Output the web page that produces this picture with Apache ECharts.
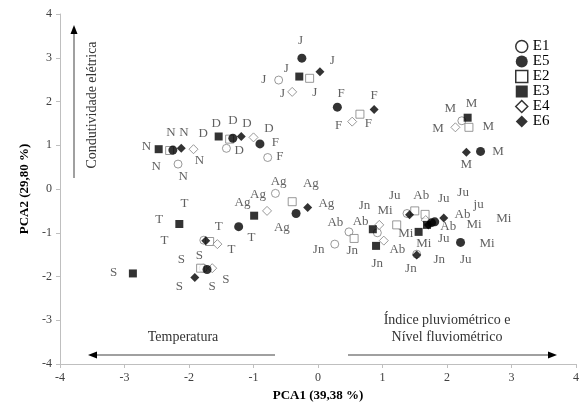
<!DOCTYPE html>
<html><head><meta charset="utf-8">
<script src="https://cdn.jsdelivr.net/npm/echarts@6/dist/echarts.min.js"></script>
<style>html,body{margin:0;padding:0;background:#fff}#c{width:582px;height:407px}</style>
</head><body><div id="c"></div>
<script>
// Axis ranges / ticks
const xMin = -4, xMax = 4, yMin = -4, yMax = 4, tickStep = 1;

// Series values [PCA1, PCA2]
const E1 = [[-0.61,2.49],[2.23,1.56],[-1.42,0.93],[-0.78,0.72],[-2.17,0.57],[-0.66,-0.10],[-1.77,-1.17],[-1.78,-1.81],[0.26,-1.26],[0.48,-0.98],[0.92,-1.00],[1.38,-0.56],[1.53,-1.49]];
const E5 = [[-0.25,2.99],[0.30,1.87],[2.52,0.86],[-1.32,1.16],[-0.90,1.03],[-2.25,0.89],[-0.34,-0.56],[-1.23,-0.86],[-1.72,-1.84],[1.76,-0.77],[1.81,-0.75],[2.21,-1.22]];
const E2 = [[-0.13,2.53],[0.65,1.71],[2.34,1.41],[-1.37,1.14],[-2.30,0.88],[-0.40,-0.29],[-1.68,-1.20],[-1.82,-1.81],[0.56,-1.13],[1.22,-0.82],[1.50,-0.50],[1.66,-0.58]];
const E3 = [[-0.29,2.57],[2.32,1.63],[-1.54,1.20],[-2.47,0.91],[-0.99,-0.61],[-2.15,-0.80],[-2.87,-1.93],[0.85,-0.92],[0.90,-1.30],[1.56,-0.98],[1.69,-0.82]];
const E4 = [[-0.40,2.22],[0.53,1.54],[2.13,1.41],[-1.00,1.18],[-1.93,0.91],[-0.79,-0.50],[-1.56,-1.26],[-1.64,-1.81],[0.95,-0.82],[1.02,-1.18],[1.67,-0.71]];
const E6 = [[0.03,2.68],[0.87,1.82],[2.30,0.84],[-1.19,1.20],[-2.12,0.93],[-0.16,-0.42],[-1.74,-1.18],[-1.91,-2.02],[1.53,-1.51],[1.95,-0.66],[1.71,-0.82],[1.42,-0.59]];

// Month labels (text and position in data units)
const labelText = ['J','J','J','J','J','J','F','F','F','F','F','F','M','M','M','M','M','M','N','N','N','N','N','N','D','D','D','D','D','D','Ag','Ag','Ag','Ag','Ag','Ag','T','T','T','T','T','T','S','S','S','S','S','S','Ju','Ab','Ju','Ju','ju','Jn','Mi','Ab','Ab','Ab','Ab','Mi','Mi','Mi','Mi','Ju','Mi','Jn','Jn','Ab','Jn','Jn','Jn','Ju'];
const labelPos = [[-0.27,3.39],[-0.49,2.76],[-0.84,2.49],[-0.55,2.17],[-0.05,2.21],[0.22,2.93],
[0.36,2.19],[0.87,2.13],[0.32,1.44],[0.78,1.50],[-0.66,1.06],[-0.59,0.74],
[2.38,1.96],[2.05,1.84],[1.86,1.37],[2.64,1.42],[2.79,0.85],[2.30,0.56],
[-2.28,1.30],[-2.08,1.30],[-2.66,0.97],[-1.84,0.66],[-2.51,0.51],[-2.09,0.28],
[-1.58,1.50],[-1.32,1.56],[-1.10,1.50],[-1.78,1.27],[-0.76,1.39],[-1.22,0.88],
[-0.61,0.18],[-0.93,-0.12],[-1.17,-0.30],[-0.56,-0.88],[-0.11,0.13],[0.13,-0.33],
[-2.07,-0.33],[-2.46,-0.71],[-2.38,-1.17],[-1.54,-0.86],[-1.03,-1.10],[-1.34,-1.38],
[-1.84,-1.53],[-2.12,-1.62],[-3.17,-1.91],[-2.15,-2.22],[-1.64,-2.22],[-1.43,-2.08],
[1.19,-0.16],[1.60,-0.16],[1.95,-0.21],[2.25,-0.08],[2.49,-0.35],[0.72,-0.37],[1.04,-0.50],
[0.27,-0.77],[0.66,-0.75],[2.24,-0.59],[2.02,-0.86],[2.42,-0.82],[2.88,-0.67],
[1.36,-1.03],[1.64,-1.24],[1.95,-1.13],[2.62,-1.24],
[0.01,-1.38],[0.53,-1.41],[1.23,-1.38],[0.92,-1.71],[1.44,-1.81],[1.88,-1.62],[2.29,-1.61]];

const FONT = '"Liberation Serif", "Times New Roman", serif';
const GRAY = '#808080';

function ser(name, data, symbol, filled, size, z) {
  return {
    type: 'scatter', name: name, data: data, symbol: symbol, symbolSize: size, z: z,
    itemStyle: filled ? {color: '#000'} : {color: '#fff', borderColor: GRAY, borderWidth: 1},
    emphasis: {disabled: true}
  };
}

const chart = echarts.init(document.getElementById('c'), null, {renderer: 'canvas'});
const option = {
  animation: false,
  backgroundColor: '#fff',
  grid: {left: 60, right: 6, top: 14, bottom: 43, containLabel: false},
  xAxis: {
    type: 'value', min: xMin, max: xMax, interval: tickStep,
    name: 'PCA1 (39,38 %)', nameLocation: 'middle', nameGap: 23,
    nameTextStyle: {fontFamily: FONT, fontSize: 13, fontWeight: 'bold', color: '#000'},
    axisLine: {onZero: false, lineStyle: {color: '#bfbfbf'}},
    axisTick: {show: true, length: 4, lineStyle: {color: '#bfbfbf'}},
    axisLabel: {fontFamily: FONT, fontSize: 12, color: '#404040', margin: 8},
    splitLine: {show: false}
  },
  yAxis: {
    type: 'value', min: yMin, max: yMax, interval: tickStep,
    name: 'PCA2 (29,80 %)', nameLocation: 'middle', nameGap: 28, nameRotate: 90,
    nameTextStyle: {fontFamily: FONT, fontSize: 13, fontWeight: 'bold', color: '#000'},
    axisLine: {onZero: false, lineStyle: {color: '#bfbfbf'}},
    axisTick: {show: true, length: 4, lineStyle: {color: '#bfbfbf'}},
    axisLabel: {fontFamily: FONT, fontSize: 12, color: '#404040', margin: 8},
    splitLine: {show: false}
  },
  legend: {
    orient: 'vertical', left: 510, top: 34, itemGap: 0, itemWidth: 12, itemHeight: 12,
    textStyle: {fontFamily: FONT, fontSize: 15, color: '#000'},
    data: [
      {name: 'E1', icon: 'circle', itemStyle: {color: '#fff', borderColor: '#000', borderWidth: 1.5}},
      {name: 'E5', icon: 'circle', itemStyle: {color: '#000'}},
      {name: 'E2', icon: 'rect', itemStyle: {color: '#fff', borderColor: '#000', borderWidth: 1.5}},
      {name: 'E3', icon: 'rect', itemStyle: {color: '#000'}},
      {name: 'E4', icon: 'diamond', itemStyle: {color: '#fff', borderColor: '#000', borderWidth: 1.5}},
      {name: 'E6', icon: 'diamond', itemStyle: {color: '#000'}}
    ],
    selectedMode: false
  },
  series: [
    ser('E1', E1, 'circle', false, 8, 2),
    ser('E2', E2, 'rect', false, 8, 2),
    ser('E4', E4, 'diamond', false, 9, 2),
    ser('E5', E5, 'circle', true, 9, 3),
    ser('E3', E3, 'rect', true, 8, 3),
    ser('E6', E6, 'diamond', true, 9, 3),
    {
      type: 'scatter', name: 'labels', silent: true, symbol: 'circle', symbolSize: 1, z: 4,
      itemStyle: {color: 'rgba(0,0,0,0)'},
      data: labelText.map((t, i) => ({name: t, value: labelPos[i]})),
      label: {show: true, position: 'inside', formatter: p => p.name,
        fontFamily: FONT, fontSize: 13, color: '#3a3a3a'}
    }
  ],
  graphic: [
    {type: 'line', shape: {x1: 74, y1: 178, x2: 74, y2: 32}, style: {stroke: GRAY, lineWidth: 1.5}},
    {type: 'polygon', shape: {points: [[74, 25], [70.5, 34], [77.5, 34]]}, style: {fill: '#000'}},
    {type: 'text', x: 92, y: 105, rotation: Math.PI / 2,
      style: {text: 'Condutividade elétrica', font: '14px ' + FONT, fill: '#333', align: 'center', verticalAlign: 'middle'}},
    {type: 'line', shape: {x1: 275, y1: 355, x2: 95, y2: 355}, style: {stroke: GRAY, lineWidth: 1.5}},
    {type: 'polygon', shape: {points: [[88, 355], [97, 351.5], [97, 358.5]]}, style: {fill: '#000'}},
    {type: 'text', x: 183, y: 337, style: {text: 'Temperatura', font: '14px ' + FONT, fill: '#333', align: 'center', verticalAlign: 'middle'}},
    {type: 'line', shape: {x1: 348, y1: 355, x2: 550, y2: 355}, style: {stroke: GRAY, lineWidth: 1.5}},
    {type: 'polygon', shape: {points: [[557, 355], [548, 351.5], [548, 358.5]]}, style: {fill: '#000'}},
    {type: 'text', x: 447, y: 320, style: {text: 'Índice pluviométrico e', font: '14px ' + FONT, fill: '#333', align: 'center', verticalAlign: 'middle'}},
    {type: 'text', x: 447, y: 337, style: {text: 'Nível fluviométrico', font: '14px ' + FONT, fill: '#333', align: 'center', verticalAlign: 'middle'}}
  ]
};
chart.setOption(option);
</script>
</body></html>
